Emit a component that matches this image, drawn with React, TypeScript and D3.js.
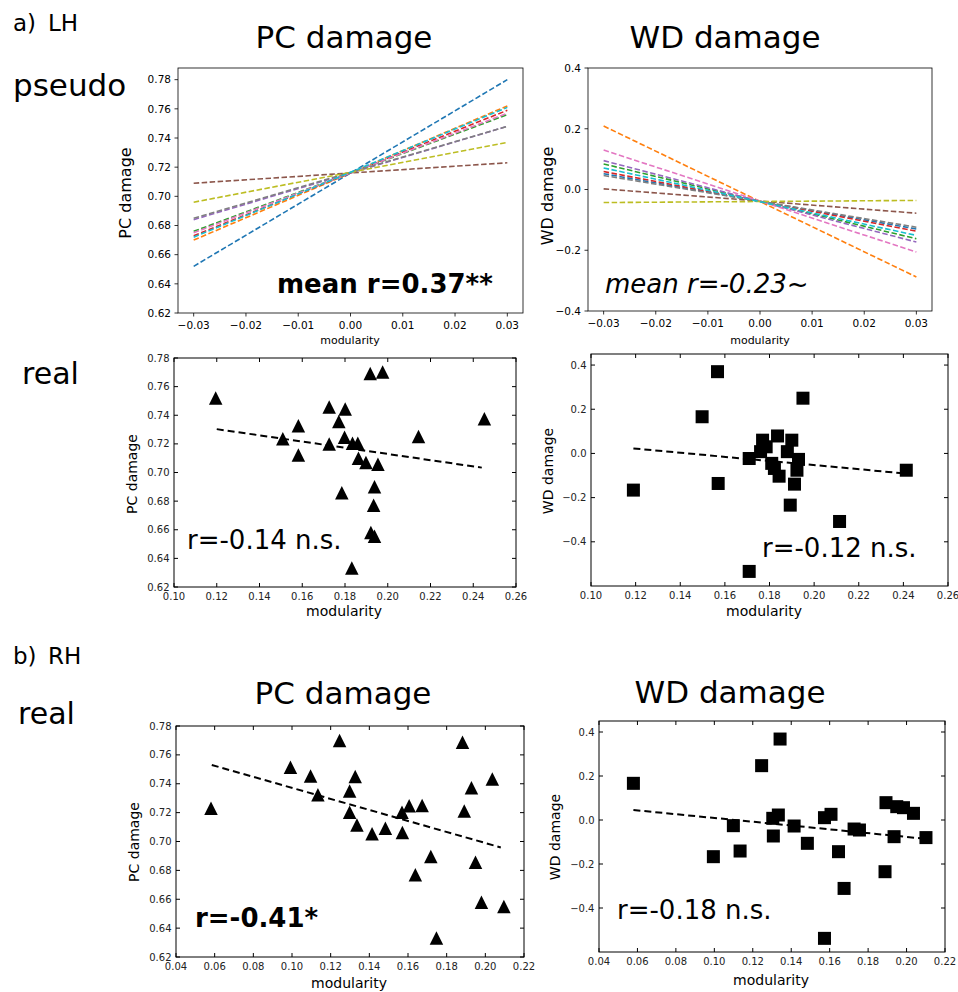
import React from "react";
import * as d3 from "d3";

// matplotlib tab10, in the order the pseudo fits were drawn
const pseudoColors = ["#1f77b4", "#ff7f0e", "#2ca02c", "#d62728", "#9467bd", "#8c564b", "#e377c2", "#7f7f7f", "#bcbd22", "#17becf"];
const pseudoX = [-0.03, 0.03];
const pcPseudoStart = [0.652, 0.670, 0.676, 0.673, 0.684, 0.709, 0.675, 0.685, 0.696, 0.672];
const pcPseudoEnd = [0.780, 0.762, 0.756, 0.759, 0.748, 0.723, 0.757, 0.748, 0.737, 0.761];
const wdPseudoStart = [0.052, 0.209, 0.084, 0.059, 0.095, 0.002, 0.130, 0.046, -0.043, 0.071];
const wdPseudoEnd = [-0.130, -0.288, -0.162, -0.137, -0.173, -0.078, -0.206, -0.124, -0.036, -0.151];

// LH real, PC damage
const lhPcMod = [0.1195, 0.1509, 0.1582, 0.1582, 0.1726, 0.1726, 0.1771, 0.1801, 0.1798, 0.1785, 0.1835, 0.186, 0.1863, 0.1898, 0.1918, 0.1976, 0.1954, 0.1938, 0.1934, 0.1921, 0.1938, 0.1832, 0.2144, 0.2452];
const lhPcVal = [0.752, 0.7235, 0.7326, 0.7123, 0.7457, 0.72, 0.7357, 0.7443, 0.7247, 0.6859, 0.7205, 0.7205, 0.71, 0.7069, 0.7691, 0.7702, 0.7057, 0.6901, 0.6772, 0.6581, 0.6555, 0.6333, 0.7251, 0.7375];
const lhPcFitX = [0.12, 0.244];
const lhPcFitY = [0.7303, 0.7034];

// LH real, WD damage
const lhWdMod = [0.119, 0.1498, 0.1567, 0.157, 0.1709, 0.1709, 0.1769, 0.176, 0.1785, 0.181, 0.1822, 0.1836, 0.1843, 0.188, 0.19, 0.1893, 0.193, 0.1923, 0.1912, 0.195, 0.2114, 0.2413];
const lhWdVal = [-0.166, 0.166, 0.37, -0.136, -0.023, -0.534, 0.06, 0.008, 0.03, -0.045, -0.068, 0.079, -0.103, 0.008, 0.06, -0.234, -0.027, -0.076, -0.139, 0.25, -0.308, -0.076];
const lhWdFitX = [0.119, 0.2408];
const lhWdFitY = [0.0227, -0.0907];

// RH real, PC damage
const rhPcMod = [0.0581, 0.0992, 0.1096, 0.1134, 0.1246, 0.1298, 0.1327, 0.1298, 0.1336, 0.1414, 0.1483, 0.1569, 0.1571, 0.1606, 0.1673, 0.1638, 0.1718, 0.1747, 0.1882, 0.1891, 0.1928, 0.1949, 0.198, 0.2036, 0.2096];
const rhPcVal = [0.7231, 0.7514, 0.7454, 0.7323, 0.7699, 0.735, 0.745, 0.7203, 0.7115, 0.7053, 0.7092, 0.7203, 0.7062, 0.7247, 0.7249, 0.677, 0.6896, 0.6331, 0.7687, 0.7212, 0.7373, 0.6857, 0.658, 0.7433, 0.655];
const rhPcFitX = [0.0585, 0.208];
const rhPcFitY = [0.753, 0.6959];

// RH real, WD damage
const rhWdMod = [0.0579, 0.0995, 0.1099, 0.1134, 0.1246, 0.1304, 0.1307, 0.1333, 0.1342, 0.1415, 0.1484, 0.1573, 0.1607, 0.1646, 0.1573, 0.1675, 0.1727, 0.1755, 0.1893, 0.1888, 0.1935, 0.1949, 0.1984, 0.2036, 0.2101];
const rhWdVal = [0.1667, -0.1667, -0.0258, -0.141, 0.247, 0.0076, -0.0727, 0.0227, 0.368, -0.0273, -0.106, 0.0106, 0.0258, -0.144, -0.538, -0.311, -0.041, -0.0455, 0.0788, -0.235, -0.0758, 0.0606, 0.056, 0.0303, -0.08];
const rhWdFitX = [0.0579, 0.2093];
const rhWdFitY = [0.0455, -0.0848];

// ticks
const pseudoXTicks = [-0.03, -0.02, -0.01, 0, 0.01, 0.02, 0.03];
const pcTicks = [0.62, 0.64, 0.66, 0.68, 0.70, 0.72, 0.74, 0.76, 0.78];
const wdTicks = [-0.4, -0.2, 0, 0.2, 0.4];
const lhModTicks = [0.10, 0.12, 0.14, 0.16, 0.18, 0.20, 0.22, 0.24, 0.26];
const rhModTicks = [0.04, 0.06, 0.08, 0.10, 0.12, 0.14, 0.16, 0.18, 0.20, 0.22];

const FONT = "DejaVu Sans, sans-serif";
const f2 = d3.format(".2f");
const f1 = d3.format(".1f");

type Box = { l: number; t: number; r: number; b: number };

const Axes = ({ box, xDomain, yDomain, xTicks, yTicks, xFmt, yFmt, classic, children }: any) => {
  const x = d3.scaleLinear().domain(xDomain).range([box.l, box.r]);
  const y = d3.scaleLinear().domain(yDomain).range([box.b, box.t]);
  const out = classic ? -4 : 3.5; // >0 = ticks outside
  const fs = classic ? 10 : 10.5;
  const col = classic ? "#222" : "#000";
  const sw = classic ? 1 : 0.8;
  return (
    <g>
      {children(x, y)}
      <rect x={box.l} y={box.t} width={box.r - box.l} height={box.b - box.t} fill="none" stroke="#000" strokeWidth={sw} />
      {yTicks.map((v: number) => (
        <g key={"y" + v}>
          <line x1={box.l} x2={box.l - out} y1={y(v)} y2={y(v)} stroke="#000" strokeWidth={sw} />
          {classic && <line x1={box.r} x2={box.r + out} y1={y(v)} y2={y(v)} stroke="#000" strokeWidth={sw} />}
          <text x={box.l - (classic ? 4.5 : 7)} y={y(v)} dy="0.36em" textAnchor="end" fontSize={fs} fill={col} fontFamily={FONT}>
            {yFmt(v)}
          </text>
        </g>
      ))}
      {xTicks.map((v: number) => (
        <g key={"x" + v}>
          <line x1={x(v)} x2={x(v)} y1={box.b} y2={box.b + out} stroke="#000" strokeWidth={sw} />
          {classic && <line x1={x(v)} x2={x(v)} y1={box.t} y2={box.t - out} stroke="#000" strokeWidth={sw} />}
          <text x={x(v)} y={box.b + (classic ? 12.5 : 15.5)} textAnchor="middle" fontSize={fs} fill={col} fontFamily={FONT}>
            {xFmt(v)}
          </text>
        </g>
      ))}
    </g>
  );
};

const tri = (cx: number, cy: number, s: number) =>
  `M${cx},${cy - s / 2}L${cx + s / 2},${cy + s / 2}L${cx - s / 2},${cy + s / 2}Z`;

const pseudoLines = (starts: number[], ends: number[]) => (x: any, y: any) => {
  const ln = d3.line<number[]>().x((d) => x(d[0])).y((d) => y(d[1]));
  return starts.map((s, i) => (
    <path key={i} d={ln([[pseudoX[0], s], [pseudoX[1], ends[i]]]) || ""} fill="none"
      stroke={pseudoColors[i]} strokeWidth={1.6} strokeDasharray="5.5,2.5" />
  ));
};

const scatter = (mods: number[], vals: number[], fitX: number[], fitY: number[], marker: "tri" | "sq") => (x: any, y: any) => {
  const ln = d3.line<number>().x((d) => x(d)).y((_, i) => y(fitY[i]));
  return (
    <g>
      {mods.map((m, i) =>
        marker === "tri" ? (
          <path key={i} d={tri(x(m), y(vals[i]), 13.5)} fill="#000" />
        ) : (
          <rect key={i} x={x(m) - 6.5} y={y(vals[i]) - 6.5} width={13} height={13} fill="#000" />
        )
      )}
      <path d={ln(fitX) || ""} fill="none" stroke="#000" strokeWidth={2} strokeDasharray="7,4" />
    </g>
  );
};

const T = ({ x, y, size, children, anchor = "start", weight = "normal", style = "normal", rotate = false }: any) => (
  <text
    x={rotate ? 0 : x}
    y={rotate ? 0 : y}
    transform={rotate ? `translate(${x},${y}) rotate(-90)` : undefined}
    fontSize={size}
    fontFamily={FONT}
    fontWeight={weight}
    fontStyle={style}
    textAnchor={anchor}
    fill="#000"
  >
    {children}
  </text>
);

export default function App() {
  const p1: Box = { l: 178, t: 68, r: 523, b: 313 };
  const p2: Box = { l: 588, t: 68, r: 932, b: 311 };
  const p3: Box = { l: 174, t: 358, r: 516, b: 587 };
  const p4: Box = { l: 591, t: 354, r: 948, b: 586 };
  const p5: Box = { l: 176, t: 726, r: 524, b: 957 };
  const p6: Box = { l: 599, t: 721, r: 945, b: 952 };

  return (
    <svg width={958} height={992} style={{ position: "absolute", left: 0, top: 0, background: "#fff" }}>
      <rect width={958} height={992} fill="#fff" />

      {/* row labels and titles */}
      <T x={13} y={31} size={23}>a)</T>
      <T x={48} y={31} size={23}>LH</T>
      <T x={13} y={96} size={31}>pseudo</T>
      <T x={22} y={384} size={30}>real</T>
      <T x={13} y={664} size={23}>b)</T>
      <T x={48} y={664} size={23}>RH</T>
      <T x={18} y={724} size={30}>real</T>
      <T x={344} y={48} size={31} anchor="middle">PC damage</T>
      <T x={725} y={48} size={31} anchor="middle">WD damage</T>
      <T x={343} y={704} size={31} anchor="middle">PC damage</T>
      <T x={730} y={703} size={31} anchor="middle">WD damage</T>

      {/* a) pseudo PC */}
      <Axes box={p1} xDomain={[-0.033, 0.033]} yDomain={[0.62, 0.788]} xTicks={pseudoXTicks} yTicks={pcTicks} xFmt={f2} yFmt={f2}>
        {pseudoLines(pcPseudoStart, pcPseudoEnd)}
      </Axes>
      <T x={131} y={193} size={16} anchor="middle" rotate>PC damage</T>
      <T x={350} y={344} size={11} anchor="middle">modularity</T>
      <T x={277} y={293} size={26} weight="bold">mean r=0.37**</T>

      {/* a) pseudo WD */}
      <Axes box={p2} xDomain={[-0.033, 0.033]} yDomain={[-0.4, 0.4]} xTicks={pseudoXTicks} yTicks={wdTicks} xFmt={f2} yFmt={f1}>
        {pseudoLines(wdPseudoStart, wdPseudoEnd)}
      </Axes>
      <T x={553} y={196} size={16} anchor="middle" rotate>WD damage</T>
      <T x={760} y={344} size={11} anchor="middle">modularity</T>
      <T x={605} y={293} size={26} style="italic">mean r=-0.23~</T>

      {/* a) real PC */}
      <Axes box={p3} classic xDomain={[0.1, 0.26]} yDomain={[0.62, 0.78]} xTicks={lhModTicks} yTicks={pcTicks} xFmt={f2} yFmt={f2}>
        {scatter(lhPcMod, lhPcVal, lhPcFitX, lhPcFitY, "tri")}
      </Axes>
      <T x={137} y={474} size={14} anchor="middle" rotate>PC damage</T>
      <T x={344} y={616} size={14} anchor="middle">modularity</T>
      <T x={187} y={549} size={26}>r=-0.14 n.s.</T>

      {/* a) real WD */}
      <Axes box={p4} classic xDomain={[0.1, 0.26]} yDomain={[-0.6, 0.45]} xTicks={lhModTicks} yTicks={wdTicks} xFmt={f2} yFmt={f1}>
        {scatter(lhWdMod, lhWdVal, lhWdFitX, lhWdFitY, "sq")}
      </Axes>
      <T x={553} y={471} size={14} anchor="middle" rotate>WD damage</T>
      <T x={764} y={616} size={14} anchor="middle">modularity</T>
      <T x={762} y={557} size={26}>r=-0.12 n.s.</T>

      {/* b) real PC */}
      <Axes box={p5} classic xDomain={[0.04, 0.22]} yDomain={[0.62, 0.78]} xTicks={rhModTicks} yTicks={pcTicks} xFmt={f2} yFmt={f2}>
        {scatter(rhPcMod, rhPcVal, rhPcFitX, rhPcFitY, "tri")}
      </Axes>
      <T x={139} y={842} size={14} anchor="middle" rotate>PC damage</T>
      <T x={349} y={988} size={14} anchor="middle">modularity</T>
      <T x={195} y={927} size={26} weight="bold">r=-0.41*</T>

      {/* b) real WD */}
      <Axes box={p6} classic xDomain={[0.04, 0.22]} yDomain={[-0.6, 0.45]} xTicks={rhModTicks} yTicks={wdTicks} xFmt={f2} yFmt={f1}>
        {scatter(rhWdMod, rhWdVal, rhWdFitX, rhWdFitY, "sq")}
      </Axes>
      <T x={560} y={837} size={14} anchor="middle" rotate>WD damage</T>
      <T x={771} y={985} size={14} anchor="middle">modularity</T>
      <T x={617} y={919} size={26}>r=-0.18 n.s.</T>
    </svg>
  );
}
